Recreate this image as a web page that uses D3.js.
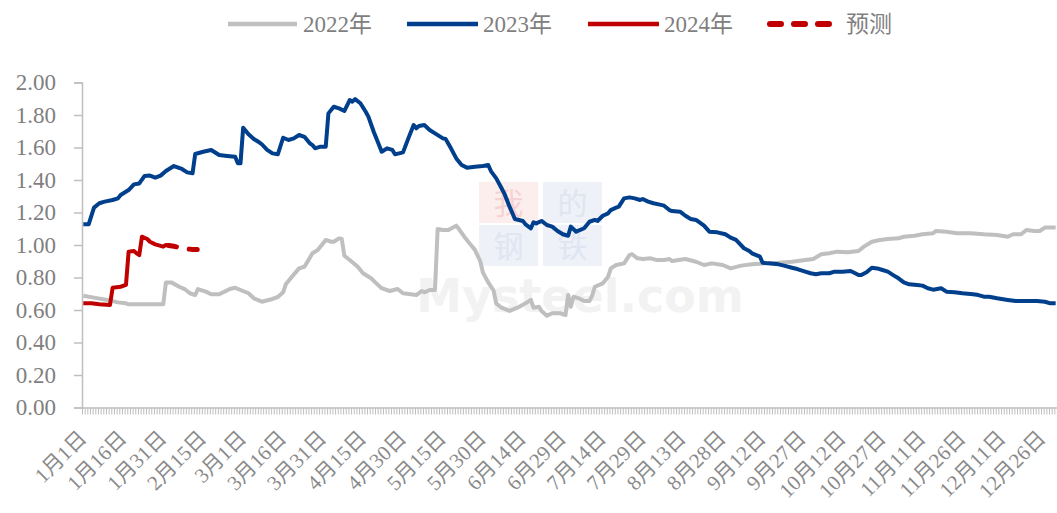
<!DOCTYPE html>
<html><head><meta charset="utf-8">
<script src="https://cdn.jsdelivr.net/npm/d3@7"></script>
<style>body{margin:0;background:#fff;} svg{display:block}</style>
</head><body>
<svg id="c" width="1057" height="513"></svg>
<script>
// ---- data ----
const tickDays = [0,15,30,45,60,75,90,105,120,135,150,165,180,195,210,225,240,255,270,285,300,315,330,345,360];
const tickLabels = ["1月1日","1月16日","1月31日","2月15日","3月1日","3月16日","3月31日","4月15日","4月30日","5月15日","5月30日","6月14日","6月29日","7月14日","7月29日","8月13日","8月28日","9月12日","9月27日","10月12日","10月27日","11月11日","11月26日","12月11日","12月26日"];
const yTicks = [0,0.2,0.4,0.6,0.8,1.0,1.2,1.4,1.6,1.8,2.0];
const seriesNames = ["2022年","2023年","2024年","预测"];

const days2022 = [0,4,9,13,16,17,23,30,31,33,36,38,40,42,43,46,48,51,53,55,57,59,62,64,67,71,73,75,76,78,81,83,84,86,88,91,93,94,96,97,98,100,103,105,108,110,112,115,118,120,123,125,127,128,130,132,133,135,137,140,141,143,145,147,149,150,152,154,155,157,160,163,166,168,169,171,172,174,176,179,181,182,183,184,186,188,190,191,192,195,197,198,200,203,205,206,208,210,213,215,218,220,221,226,230,233,236,240,243,247,251,256,261,266,271,274,277,280,283,287,291,293,296,299,302,306,308,312,315,319,320,324,328,333,338,343,347,349,352,354,357,359,361,365];
const vals2022 = [0.688,0.676,0.662,0.647,0.641,0.635,0.635,0.635,0.770,0.770,0.743,0.729,0.703,0.692,0.729,0.713,0.697,0.697,0.713,0.729,0.737,0.723,0.703,0.672,0.651,0.668,0.680,0.709,0.758,0.799,0.856,0.866,0.893,0.949,0.969,1.031,1.020,1.020,1.041,1.037,0.934,0.908,0.866,0.826,0.795,0.764,0.734,0.717,0.729,0.703,0.697,0.692,0.717,0.709,0.723,0.723,1.098,1.092,1.092,1.119,1.098,1.051,1.010,0.970,0.900,0.830,0.770,0.720,0.640,0.614,0.594,0.614,0.641,0.662,0.614,0.620,0.594,0.565,0.580,0.580,0.569,0.692,0.620,0.682,0.672,0.655,0.655,0.688,0.743,0.764,0.805,0.856,0.877,0.887,0.938,0.943,0.918,0.914,0.918,0.908,0.908,0.914,0.901,0.914,0.897,0.877,0.887,0.877,0.856,0.873,0.881,0.887,0.891,0.897,0.908,0.914,0.943,0.949,0.959,0.955,0.963,0.990,1.020,1.031,1.037,1.041,1.051,1.057,1.066,1.072,1.086,1.082,1.072,1.072,1.066,1.062,1.051,1.066,1.066,1.092,1.086,1.086,1.107,1.107];

const days2023 = [0,2,4,6,8,11,13,14,17,19,21,23,25,27,29,31,34,37,39,41,42,45,48,51,54,57,58,59,60,62,64,66,67,69,71,73,75,77,79,81,83,85,86,87,89,91,92,94,96,98,100,101,102,104,106,107,109,111,112,114,116,117,120,122,124,125,126,128,130,132,135,136,138,140,142,144,147,150,152,153,155,157,158,160,162,165,166,168,169,170,172,174,176,178,180,182,183,185,188,190,192,193,195,197,198,200,201,203,205,207,209,210,212,214,216,218,220,221,224,226,228,230,233,235,238,241,243,245,248,250,251,254,255,257,261,263,266,268,271,273,275,277,280,282,285,288,289,291,292,294,296,298,300,302,304,306,308,310,313,315,317,319,322,324,327,330,334,336,338,340,343,347,350,354,358,361,363,365];
const vals2023 = [1.127,1.127,1.230,1.257,1.267,1.277,1.287,1.308,1.338,1.373,1.379,1.425,1.427,1.414,1.427,1.455,1.486,1.468,1.447,1.441,1.560,1.574,1.585,1.554,1.548,1.543,1.503,1.503,1.722,1.681,1.652,1.632,1.620,1.585,1.564,1.558,1.660,1.646,1.656,1.677,1.666,1.626,1.615,1.595,1.605,1.605,1.810,1.851,1.841,1.825,1.892,1.882,1.898,1.872,1.820,1.790,1.697,1.615,1.574,1.595,1.585,1.558,1.570,1.656,1.738,1.718,1.732,1.738,1.708,1.687,1.656,1.652,1.595,1.533,1.492,1.476,1.482,1.486,1.492,1.455,1.410,1.349,1.318,1.236,1.160,1.148,1.127,1.103,1.140,1.133,1.148,1.123,1.113,1.086,1.066,1.057,1.113,1.082,1.103,1.143,1.154,1.148,1.180,1.195,1.215,1.230,1.236,1.287,1.293,1.287,1.277,1.283,1.267,1.257,1.250,1.242,1.215,1.209,1.205,1.180,1.160,1.154,1.119,1.082,1.078,1.066,1.045,1.031,0.980,0.963,0.949,0.928,0.891,0.887,0.881,0.873,0.860,0.852,0.836,0.826,0.820,0.826,0.826,0.836,0.836,0.840,0.832,0.815,0.815,0.832,0.860,0.856,0.846,0.836,0.815,0.795,0.770,0.758,0.754,0.750,0.734,0.725,0.734,0.713,0.709,0.703,0.697,0.692,0.682,0.682,0.672,0.662,0.655,0.655,0.655,0.651,0.641,0.641];

const days2024 = [0,3,6,10,11,14,16,17,19,20,21,22,24,25,27,30,31,33];
const vals2024 = [0.641,0.641,0.635,0.631,0.737,0.743,0.754,0.959,0.963,0.949,0.938,1.051,1.037,1.020,1.004,0.990,1.000,0.994];

const daysForecast = [32,34,36,38,41,44];
const valsForecast = [0.997,0.992,0.985,0.977,0.973,0.973];

// ---- chart ----
const svg = d3.select("#c");
const serif = "'Liberation Serif','Times New Roman','Noto Sans CJK SC',serif";
const textCol = "#7f7f7f", axisCol = "#bfbfbf";
const colors = ["#bfbfbf","#003f8c","#c00000","#c00000"];

const x = d3.scaleLinear().domain([-0.5, 365.5]).range([82, 1057]);
const y = d3.scaleLinear().domain([0, 2]).range([407.5, 82.5]);

// watermark (faint)
const wm = svg.append("g");
const boxes = [[479,182,"我","#fdeeee","#f6d3d3"],[543,182,"的","#eef1f8","#dfe5f1"],[479,225,"钢","#eef1f8","#dfe5f1"],[543,225,"铁","#eef1f8","#dfe5f1"]];
boxes.forEach(b=>{
  wm.append("rect").attr("x",b[0]).attr("y",b[1]).attr("width",59).attr("height",41).attr("fill",b[3]);
  wm.append("text").attr("x",b[0]+29.5).attr("y",b[1]+32).attr("text-anchor","middle")
    .attr("font-family","'Noto Sans CJK SC',sans-serif").attr("font-size",30).attr("fill",b[4]).text(b[2]);
});
wm.append("text").attr("x",580).attr("y",312).attr("text-anchor","middle")
  .attr("font-family","'DejaVu Sans',sans-serif").attr("font-weight","bold").attr("font-size",46)
  .attr("fill","#f2f2f2").text("Mysteel.com");

// y axis
const yAxis = svg.append("g").attr("transform","translate(82,0)")
  .call(d3.axisLeft(y).tickValues(yTicks).tickFormat(d3.format(".2f")).tickSize(8).tickPadding(18));
yAxis.select(".domain").attr("stroke",axisCol).attr("stroke-width",1.5);
yAxis.selectAll(".tick line").attr("stroke",axisCol).attr("stroke-width",1.5);
yAxis.selectAll("text").attr("font-family",serif).attr("font-size",23).attr("fill",textCol);

// x axis minor ticks
const xAxis = svg.append("g").attr("transform","translate(0,407.5)")
  .call(d3.axisBottom(x).tickValues(d3.range(-0.5, 366, 1)).tickFormat("").tickSize(7).tickSizeOuter(0));
xAxis.select(".domain").attr("stroke",axisCol).attr("stroke-width",1.5);
xAxis.selectAll(".tick line").attr("stroke",axisCol).attr("stroke-width",1);

// x labels
const xLab = svg.append("g").attr("transform","translate(0,407.5)")
  .call(d3.axisBottom(x).tickValues(tickDays).tickFormat((d,i)=>tickLabels[i]).tickSize(0));
xLab.select(".domain").remove();
xLab.selectAll("text").attr("x",0).attr("y",0).attr("dy",0)
  .attr("transform","translate(4,32) rotate(-45)").attr("text-anchor","end")
  .attr("font-family",serif).attr("font-size",21).attr("fill","#8a8a8a");

// lines
const line = d3.line().x(d=>x(d[0])).y(d=>y(d[1]));
const zip = (a,b)=>a.map((d,i)=>[d,b[i]]);
const plot = svg.append("g");
plot.append("path").datum(zip(days2022,vals2022)).attr("d",line).attr("fill","none")
  .attr("stroke",colors[0]).attr("stroke-width",4).attr("stroke-linejoin","round");
plot.append("path").datum(zip(days2023,vals2023)).attr("d",line).attr("fill","none")
  .attr("stroke",colors[1]).attr("stroke-width",4).attr("stroke-linejoin","round");
plot.append("path").datum(zip(days2024,vals2024)).attr("d",line).attr("fill","none")
  .attr("stroke",colors[2]).attr("stroke-width",4).attr("stroke-linejoin","round");
plot.append("path").datum(zip(daysForecast,valsForecast)).attr("d",line).attr("fill","none")
  .attr("stroke",colors[3]).attr("stroke-width",5).attr("stroke-dasharray","8,13").attr("stroke-linecap","round");

// legend
const leg = svg.append("g");
const legItems = [[228,297,303],[407,478,483],[588,659,664],[767,832,846]];
legItems.forEach((l,i)=>{
  const p = leg.append("line").attr("x1",l[0]+ (i===3?3:0)).attr("x2",l[1]-(i===3?3:0)).attr("y1",24).attr("y2",24)
    .attr("stroke",colors[i]).attr("stroke-width",i===3?6:4.5);
  if(i===3) p.attr("stroke-dasharray","11,13").attr("stroke-linecap","round");
  leg.append("text").attr("x",l[2]).attr("y",32).attr("font-family",serif).attr("font-size",23)
    .attr("fill",textCol).text(seriesNames[i]);
});
</script>
</body></html>
